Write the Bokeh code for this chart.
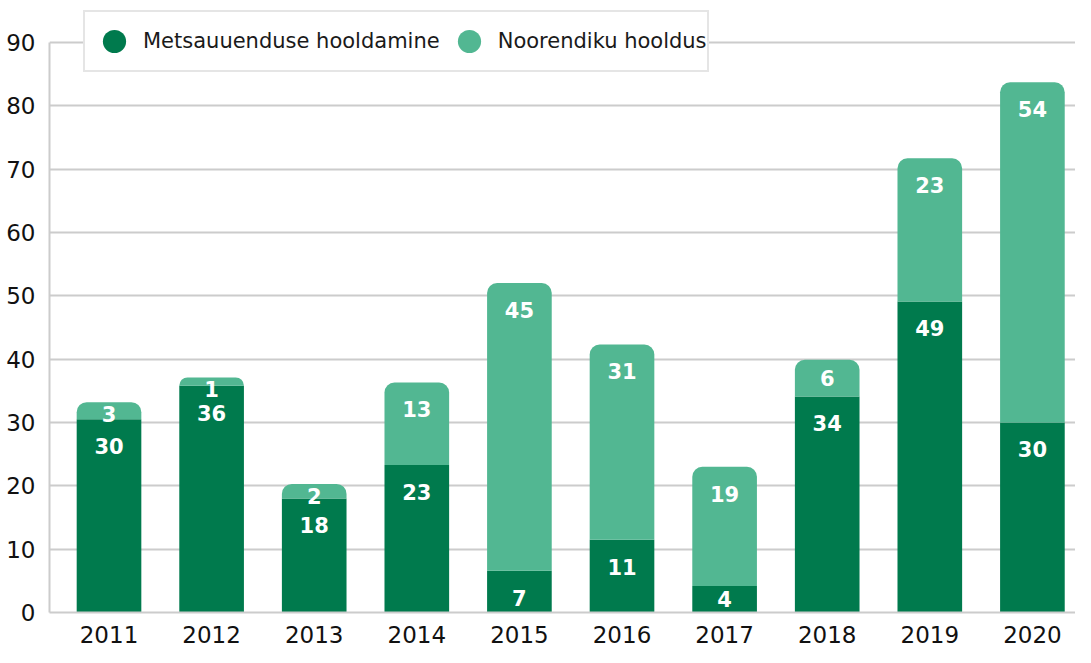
from bokeh.plotting import figure
from bokeh.models import Range1d, FixedTicker, ColumnDataSource, Legend, LegendItem
from bokeh.core.properties import value
from bokeh.embed import file_html
from bokeh.resources import INLINE

years = ["2011", "2012", "2013", "2014", "2015", "2016", "2017", "2018", "2019", "2020"]
metsauuendus = [30.5, 35.8, 18.0, 23.3, 6.6, 11.5, 4.2, 34.1, 49.1, 30.0]
noorendik = [2.7, 1.3, 2.3, 13.0, 45.4, 30.8, 18.8, 5.8, 22.6, 53.7]
metsauuendus_labels = ["30", "36", "18", "23", "7", "11", "4", "34", "49", "30"]
noorendik_labels = ["3", "1", "2", "13", "45", "31", "19", "6", "23", "54"]
y_ticks = [0, 10, 20, 30, 40, 50, 60, 70, 80, 90]
series_names = ["Metsauuenduse hooldamine", "Noorendiku hooldus"]

DARK = "#007A4D"
LIGHT = "#52B792"
GRID = "#cccccc"
FONT = "DejaVu Sans"


def label_y(bottom, top):
    seg = top - bottom
    off = 4.25 if seg >= 6 else max(seg / 2, 1.9)
    return top - off


xs = list(range(len(years)))
total = [a + b for a, b in zip(metsauuendus, noorendik)]
src = ColumnDataSource(dict(
    x=xs,
    dark=metsauuendus,
    total=total,
    dark_lab=metsauuendus_labels,
    light_lab=noorendik_labels,
    dark_y=[label_y(0, d) for d in metsauuendus],
    light_y=[label_y(d, t) for d, t in zip(metsauuendus, total)],
))

p = figure(width=1075, height=647, output_backend="svg", toolbar_location=None,
           x_range=Range1d(-0.58, len(years) - 0.58), y_range=Range1d(0, 96.6),
           min_border_left=49, min_border_right=0, min_border_top=0, min_border_bottom=35)
p.outline_line_color = None
p.background_fill_color = "white"

p.vbar(x="x", bottom=0, top="dark", width=0.63, source=src,
       fill_color=DARK, line_color=None)
p.vbar(x="x", bottom="dark", top="total", width=0.63, source=src,
       fill_color=LIGHT, line_color=None, border_radius=(10, 10, 0, 0))

for col_y, col_t in (("dark_y", "dark_lab"), ("light_y", "light_lab")):
    p.text(x="x", y=col_y, text=col_t, source=src, text_color="white",
           text_font=value(FONT), text_font_style="bold", text_font_size="21px",
           text_align="center", text_baseline="middle")

# axes
p.xaxis.ticker = FixedTicker(ticks=xs)
p.xaxis.major_label_overrides = {i: y for i, y in enumerate(years)}
p.yaxis.ticker = FixedTicker(ticks=y_ticks)
p.yaxis.bounds = (0, 90)
for ax in (p.xaxis[0], p.yaxis[0]):
    ax.axis_line_color = GRID
    ax.axis_line_width = 2
    ax.major_tick_line_color = None
    ax.minor_tick_line_color = None
    ax.major_label_text_font = FONT
    ax.major_label_text_font_size = "23px"
    ax.major_label_text_color = "#111111"
p.xaxis.major_label_standoff = 7
p.yaxis.major_label_standoff = 8

p.xgrid.visible = False
p.ygrid.ticker = FixedTicker(ticks=y_ticks)
p.ygrid.grid_line_color = GRID
p.ygrid.grid_line_width = 2

# legend
nan = float("nan")
r1 = p.scatter(x=[nan], y=[nan], marker="circle", fill_color=DARK, line_color=None)
r2 = p.scatter(x=[nan], y=[nan], marker="circle", fill_color=LIGHT, line_color=None)
legend = Legend(items=[LegendItem(label=series_names[0], renderers=[r1]),
                       LegendItem(label=series_names[1], renderers=[r2])],
                orientation="horizontal", location=(34, 540),
                glyph_width=58, glyph_height=58, padding=0, spacing=0,
                label_standoff=0, margin=0,
                border_line_color=GRID, border_line_width=2,
                background_fill_color="white", background_fill_alpha=1,
                label_text_font=FONT, label_text_font_size="21px",
                label_text_color="#1a1a1a")
p.add_layout(legend)

open("out.html", "w").write(file_html(p, INLINE))
